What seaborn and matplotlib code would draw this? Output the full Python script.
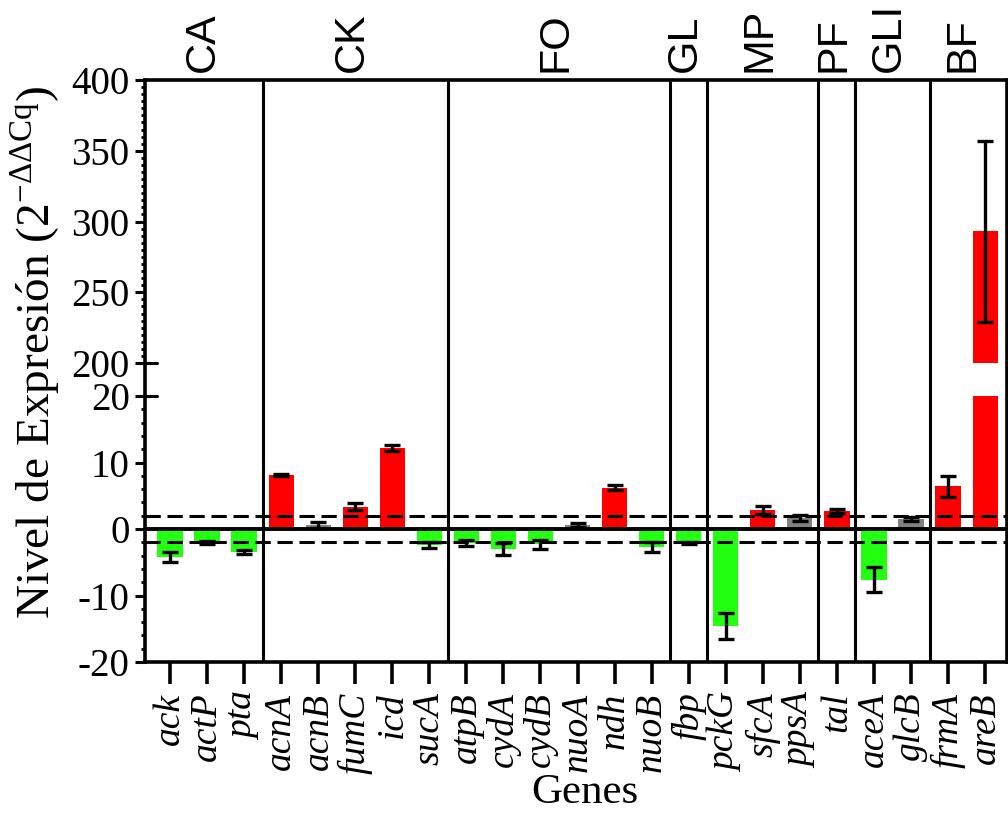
import numpy as np
import pandas as pd
import matplotlib
matplotlib.use('Agg')
import matplotlib.pyplot as plt
import matplotlib.transforms as mtransforms
import seaborn as sns

sns.set_style('ticks')
plt.rcParams['font.family'] = ['Liberation Serif', 'DejaVu Serif']
plt.rcParams['mathtext.fontset'] = 'custom'
plt.rcParams['mathtext.rm'] = 'Liberation Serif'
for key in ['text.color', 'axes.labelcolor', 'xtick.color', 'ytick.color', 'axes.edgecolor']:
    plt.rcParams[key] = 'black'

# data
genes = ['ack', 'actP', 'pta',
         'acnA', 'acnB', 'fumC', 'icd', 'sucA',
         'atpB', 'cydA', 'cydB', 'nuoA', 'ndh', 'nuoB',
         'fbp',
         'pckG', 'sfcA', 'ppsA',
         'tal',
         'aceA', 'glcB',
         'frmA', 'areB']
groups = ['CA', 'CK', 'FO', 'GL', 'MP', 'PF', 'GLI', 'BF']
group_sizes = [3, 5, 6, 1, 3, 1, 2, 2]
expression = [-4.2, -2.05, -3.5,
              8.1, 0.6, 3.35, 12.2, -2.4,
              -2.1, -3.0, -2.3, 0.65, 6.2, -2.7,
              -2.1,
              -14.6, 2.85, 1.6,
              2.7,
              -7.6, 1.5,
              6.4, 293.0]
error = [0.7, 0.2, 0.3,
         0.2, 0.4, 0.5, 0.45, 0.4,
         0.4, 0.9, 0.7, 0.3, 0.4, 0.7,
         0.15,
         2.0, 0.55, 0.45,
         0.3,
         1.9, 0.35,
         1.6, 64.0]
threshold = 2

# broken y axis: -20..20, then jump to 200..400
GAP = 4.96
HIGH_K = 0.2128


def fwd(v):
    v = np.asarray(v, dtype=float)
    mid = 20 + (v - 20) * GAP / 180
    high = 20 + GAP + (v - 200) * HIGH_K
    return np.where(v <= 20, v, np.where(v >= 200, high, mid))


def inv(u):
    u = np.asarray(u, dtype=float)
    mid = 20 + (u - 20) * 180 / GAP
    high = 200 + (u - 20 - GAP) / HIGH_K
    return np.where(u <= 20, u, np.where(u >= 20 + GAP, high, mid))


expr = np.array(expression)
tipo = np.where(expr > threshold, 'up', np.where(expr < -threshold, 'down', 'ns'))
df = pd.DataFrame({'gene': genes, 'low': np.minimum(expr, 20), 'tipo': tipo})
palette = {'up': '#FF0000', 'down': '#22FF11', 'ns': '#808080'}

fig = plt.figure(figsize=(10.08, 8.13), dpi=100)
ax = fig.add_axes([0.1438, 0.1857, 0.8552, 0.7159])

sns.barplot(data=df, x='gene', y='low', hue='tipo', palette=palette, order=genes,
            dodge=False, width=0.68, errorbar=None, legend=False, saturation=1,
            linewidth=0, ax=ax, zorder=2)

# upper piece of the bars that go past the break
for i, v in enumerate(expr):
    if v > 200:
        ax.bar(i, v - 200, bottom=200, width=0.68, color=palette[tipo[i]], linewidth=0, zorder=2)

ax.errorbar(np.arange(len(genes)), expr, yerr=error, fmt='none', ecolor='black',
            elinewidth=2.4, capsize=5.6, capthick=2.4, zorder=4)

ax.set_yscale('function', functions=(fwd, inv))
ax.set_ylim(-20, 400)
ax.set_xlim(-0.675, len(genes) - 0.41)

ax.axhline(0, color='black', lw=2.8, zorder=3)
ax.axhline(threshold, color='black', lw=2.2, ls=(0, (5, 2.2)), zorder=3)
ax.axhline(-threshold, color='black', lw=2.2, ls=(0, (5, 2.2)), zorder=3)

bounds = np.cumsum(group_sizes)
for b in bounds[:-1]:
    ax.axvline(b - 0.5, color='black', lw=2.2, zorder=3)

trans = mtransforms.blended_transform_factory(ax.transData, ax.transAxes)
starts = bounds - np.array(group_sizes)
for name, s, n in zip(groups, starts, group_sizes):
    ax.text(s + (n - 1) / 2 - 0.1, 1.014, name, transform=trans, rotation=90,
            ha='center', va='bottom', fontsize=31, family=['Liberation Sans', 'DejaVu Sans'])

ax.set_yticks([-20, -10, 0, 10, 20, 200, 250, 300, 350, 400])
ax.set_yticks(np.r_[np.arange(-20, 21, 2), np.arange(200, 401, 5)], minor=True)
ax.set_yticklabels(['-20', '-10', '0', '10', '20', '200', '250', '300', '350', '400'], fontsize=28)
ax.tick_params(axis='y', which='major', direction='out', length=7, width=2.2, pad=4)
ax.tick_params(axis='y', which='minor', direction='out', length=3, width=2)
ax.tick_params(axis='x', which='major', direction='out', length=16, width=2.6, pad=6)
ax.set_xticks(np.arange(len(genes)))
ax.set_xticklabels(genes, rotation=90, fontsize=27, style='italic')

# the two ticks at the break cross the axis
ytr = ax.get_yaxis_transform()
for yb in [20, 200]:
    ax.plot([0, 0.014], [yb, yb], transform=ytr, color='black', lw=2.2, clip_on=False, zorder=5)

for side in ['left', 'right', 'top', 'bottom']:
    ax.spines[side].set_linewidth(2.6)
    ax.spines[side].set_color('black')

ax.set_xlabel('')
ax.set_ylabel('')
fig.text(0.035, 1 - 352 / 813, 'Nivel de Expresión (2$^{\\mathregular{-ΔΔCq}}$)',
         rotation=90, ha='center', va='center', fontsize=34)
fig.text(585 / 1008, 1 - 793 / 813, 'Genes', ha='center', va='center', fontsize=31)

fig.savefig('out.png', dpi=100)
